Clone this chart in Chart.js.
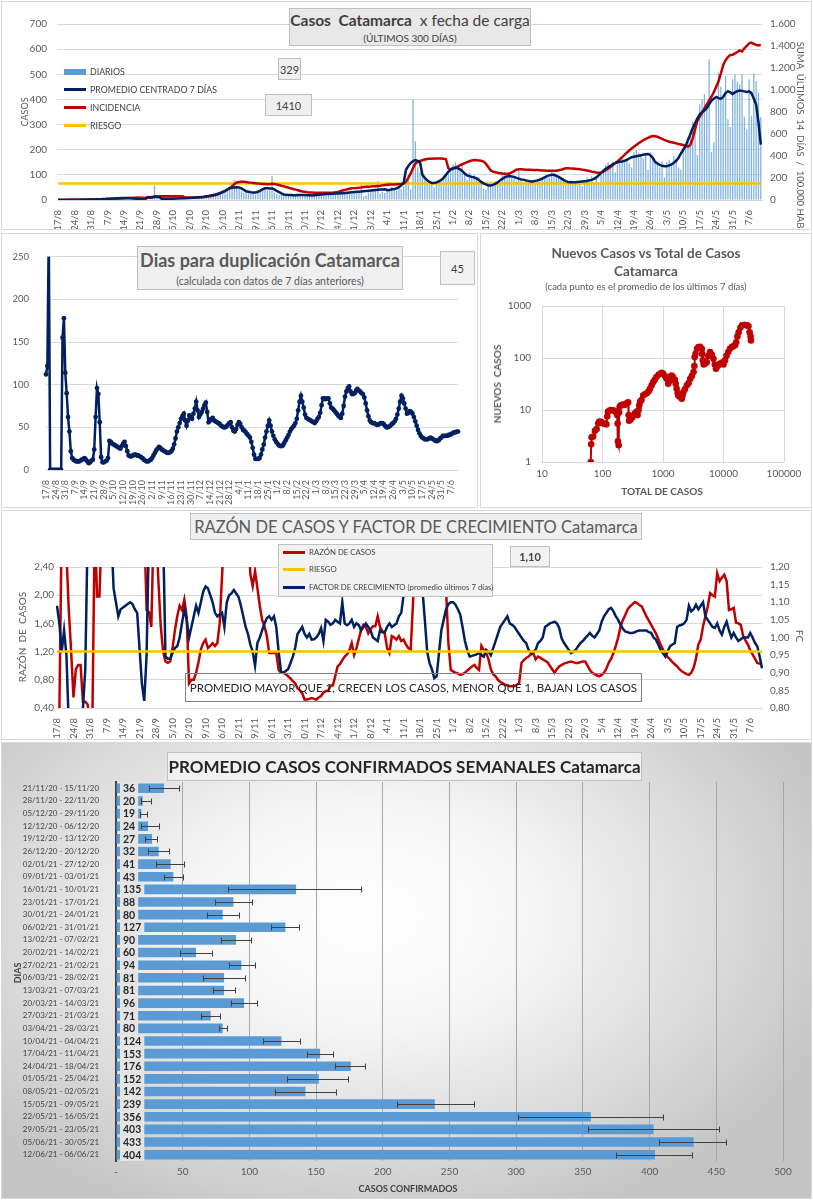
<!DOCTYPE html>
<html><head><meta charset="utf-8">
<script src="https://cdn.jsdelivr.net/npm/chart.js@4.4.0/dist/chart.umd.min.js"></script>
<style>
body{margin:0;background:#fff;font-family:Lato,'Open Sans',sans-serif;}
#wrap{position:relative;width:813px;height:1200px;overflow:hidden;background:#fff;}
.panel{position:absolute;border:1px solid #d9d9d9;box-sizing:border-box;background:#fff;}
canvas{position:absolute;}
.ov{position:absolute;color:#595959;white-space:nowrap;line-height:1;}
.c{transform:translate(-50%,-50%);}
.rl{transform:translate(-50%,-50%) rotate(-90deg);}
.rr{transform:translate(-50%,-50%) rotate(90deg);}
.box{position:absolute;background:#efefef;border:1px solid #bfbfbf;box-sizing:border-box;color:#404040;display:flex;align-items:center;justify-content:center;flex-direction:column;white-space:nowrap;}
.lg{position:absolute;display:flex;align-items:center;font-size:8.8px;color:#404040;white-space:nowrap;}
.sw{display:inline-block;width:22px;height:3px;margin-right:4px;}
</style></head><body><div id="wrap">
<div class="panel" style="left:1px;top:1px;width:811px;height:229px"></div>
<div class="panel" style="left:1px;top:233px;width:477px;height:275px"></div>
<div class="panel" style="left:480px;top:233px;width:332px;height:275px"></div>
<div class="panel" style="left:1px;top:510px;width:811px;height:230px"></div>
<div class="panel" style="left:1px;top:742px;width:811px;height:457px;background:radial-gradient(ellipse 62% 72% at 45% 38%, #ffffff 0%, #f5f5f5 35%, #c4c4c4 100%);"></div>

<canvas id="c1" width="809" height="227" style="left:2px;top:2px"></canvas>
<canvas id="c2" width="475" height="273" style="left:2px;top:234px"></canvas>
<canvas id="c3" width="330" height="273" style="left:481px;top:234px"></canvas>
<canvas id="c4" width="809" height="227" style="left:2px;top:512px"></canvas>
<canvas id="c5" width="809" height="455" style="left:2px;top:743px"></canvas>

<!-- panel 1 overlays -->
<div class="box" style="left:289px;top:8px;width:242px;height:38px;background:#e8e8e8;">
  <div style="font-size:15.5px;color:#404040"><b>Casos&nbsp; Catamarca</b>&nbsp; x fecha&nbsp;de&nbsp;carga</div>
  <div style="font-size:10px;color:#404040;margin-top:3px">(ÚLTIMOS 300&nbsp;DÍAS)</div>
</div>
<div class="box" style="left:278px;top:58px;width:23px;height:22px;font-size:11px;">329</div>
<div class="box" style="left:265px;top:94px;width:47px;height:22px;font-size:11px;">1410</div>
<div class="lg" style="left:64px;top:66px"><span class="sw" style="background:#5b9bd5;height:6px"></span>DIARIOS</div>
<div class="lg" style="left:64px;top:84px"><span class="sw" style="background:#002060"></span>PROMEDIO CENTRADO 7 DÍAS</div>
<div class="lg" style="left:64px;top:102px"><span class="sw" style="background:#c00000"></span>INCIDENCIA</div>
<div class="lg" style="left:64px;top:120px"><span class="sw" style="background:#ffc000"></span>RIESGO</div>
<div class="ov rl" style="left:24px;top:112px;font-size:9px">CASOS</div>
<div class="ov rr" style="left:800px;top:135px;font-size:9.5px">SUMA&nbsp; ÚLTIMOS&nbsp; 14&nbsp; DÍAS&nbsp; /&nbsp; 100.000&nbsp;HAB</div>

<!-- panel 2 overlays -->
<div class="box" style="left:137px;top:246px;width:266px;height:44px;background:#efefef;">
  <div style="font-size:18px;font-weight:bold;color:#595959">Dias para duplicación Catamarca</div>
  <div style="font-size:10.5px;color:#595959;margin-top:4px">(calculada con datos de 7 días anteriores)</div>
</div>
<div class="box" style="left:440px;top:251px;width:35px;height:34px;font-size:11px;background:#f2f2f2;">45</div>

<!-- panel 3 overlays -->
<div class="ov c" style="left:646px;top:254px;font-size:13.5px;font-weight:bold">Nuevos Casos vs Total de Casos</div>
<div class="ov c" style="left:646px;top:272px;font-size:13.5px;font-weight:bold">Catamarca</div>
<div class="ov c" style="left:646px;top:287px;font-size:9.5px">(cada punto es el promedio de los últimos 7 días)</div>
<div class="ov rl" style="left:497px;top:384px;font-size:10px;font-weight:bold">NUEVOS&nbsp; CASOS</div>
<div class="ov c" style="left:662px;top:491px;font-size:10px;font-weight:bold">TOTAL DE CASOS</div>

<!-- panel 4 overlays -->
<div class="box" style="left:190px;top:513px;width:452px;height:27px;background:#efefef;">
  <div style="font-size:16.5px;color:#595959">RAZÓN DE CASOS Y FACTOR DE CRECIMIENTO Catamarca</div>
</div>
<div class="box" style="left:278px;top:544px;width:215px;height:53px;background:#f2f2f2;"></div>
<div class="lg" style="left:283px;top:547px;font-size:7.8px"><span class="sw" style="background:#c00000"></span>RAZÓN DE CASOS</div>
<div class="lg" style="left:283px;top:564px;font-size:7.8px"><span class="sw" style="background:#ffc000"></span>RIESGO</div>
<div class="lg" style="left:283px;top:582px;font-size:7.8px"><span class="sw" style="background:#002060"></span>FACTOR DE CRECIMIENTO (promedio últimos 7 días)</div>
<div class="box" style="left:510px;top:546px;width:40px;height:21px;font-size:11px;font-weight:bold;background:#f2f2f2;">1,10</div>
<div style="position:absolute;left:185px;top:673px;width:457px;height:29px;border:1px solid #7f7f7f;box-sizing:border-box;display:flex;align-items:center;justify-content:center;font-size:11.5px;color:#262626;white-space:nowrap;">PROMEDIO MAYOR QUE 1, CRECEN LOS CASOS, MENOR QUE 1, BAJAN LOS CASOS</div>
<div class="ov rl" style="left:22px;top:637px;font-size:10px">RAZÓN&nbsp; DE&nbsp; CASOS</div>
<div class="ov rr" style="left:800px;top:636px;font-size:10px">FC</div>

<!-- panel 5 overlays -->
<div class="box" style="left:167px;top:752px;width:475px;height:29px;background:rgba(242,242,242,0.9);">
  <div style="font-size:17px;font-weight:bold;color:#262626">PROMEDIO CASOS CONFIRMADOS SEMANALES Catamarca</div>
</div>
<div class="ov rl" style="left:17px;top:973px;font-size:9px;font-weight:bold;color:#404040">DIAS</div>
<div class="ov c" style="left:408px;top:1188px;font-size:9px;font-weight:bold;color:#404040">CASOS CONFIRMADOS</div>
</div>

<script>
// ---------- DATA ----------
// daily cases (17/8/2020 .. 12/6/2021)
const diarios = [
0,1,0,0,1,0,0, 1,0,2,1,0,1,2, 1,3,2,2,4,3,5, 6,3,5,8,4,7,9, 12,8,10,6,9,5,3, 2,1,3,2,4,8,58,
10,8,4,6,3,2,4, 6,5,7,8,6,9,7, 8,9,6,10,12,9,14, 12,18,16,22,20,28,25, 34,38,45,40,55,80,50,
45,35,30,38,28,25,30, 22,35,40,48,45,38,
38,96,30,25,20,22,21, 18,24,15,22,19,21,21, 15,20,22,18,19,17,22, 18,26,25,22,28,20,29,
22,30,35,24,28,25,25, 26,30,28,35,72,15,18, 30,40,45,38,76,25,33, 28,48,40,52,45,38,50,
45,55,70,100,42,400,233, 130,110,95,80,70,60,71, 50,65,70,75,90,100,110, 115,140,150,130,120,135,99,
80,110,95,100,85,90,70, 45,40,55,60,70,75,75, 70,100,110,95,105,90,88, 75,120,85,70,80,65,72,
60,70,85,90,80,95,87, 90,110,105,100,95,85,87, 60,75,80,70,65,75,72, 55,80,90,85,95,70,85,
70,100,125,140,150,130,153, 110,160,170,175,150,160,146, 130,190,200,185,180,165,182,
120,190,170,160,140,130,154, 90,150,160,140,175,150,129, 120,200,210,250,280,310,303,
180,380,400,420,360,560,192, 230,400,507,450,420,493,321, 290,480,500,470,460,500,331,
280,480,335,504,473,427,329];
// 7-day centered average
const promedio7 = [
0,0,0,0,0,1,1, 1,1,1,1,1,1,2, 2,2,3,3,3,4,4, 5,5,6,6,7,7,8, 8,8,8,7,6,5,4, 3,2,2,11,11,12,12,
12,12,5,5,5,5,5, 5,6,6,7,7,7,8, 8,9,9,10,11,12,13, 15,16,18,20,22,25,28, 32,36,41,46,49,50,51,
50,46,40,35,33,31,30, 30,33,37,42,47,47,46, 46,42,36,31,26,22,21, 20,20,19,19,20,20,20,
20,19,19,18,19,20,21, 22,23,24,24,25,25,26, 26,27,27,28,29,30,31, 32,33,33,34,35,36,37,
38,39,40,41,42,42,43, 39,40,43,44,46,51,58, 68,120,135,147,155,159,156, 149,100,88,78,72,68,68,
70,74,80,88,100,112,122, 126,128,127,122,115,105,98, 95,92,90,86,80,72,66, 62,58,58,60,64,70,78,
84,90,94,95,94,92,88, 85,82,81,78,76,74,74, 76,78,81,85,90,95,98, 100,100,96,92,86,80,75,
72,71,71,71,72,73,74, 75,76,78,80,84,90,98, 108,116,124,130,136,142,147, 150,152,153,156,160,165,170,
172,174,176,178,180,182,183, 178,168,152,145,140,136,134, 134,138,142,148,156,168,185,
200,215,239,260,285,305,325, 340,350,356,365,380,395,403, 410,405,403,410,425,433,428,
422,428,433,435,434,432,430, 432,425,404,380,310,220];
// incidence: 14-day sum per 100.000 inhabitants
const incidencia = [
2,2,2,3,3,3,3, 3,3,3,4,4,4,4, 4,5,5,6,6,7,7, 8,9,10,11,12,13,14, 15,17,18,19,20,21,22, 20,20,20,20,21,22,34,
35,35,35,34,34,34,34, 34,34,34,34,34,22,22, 22,22,23,24,25,26,27, 30,33,36,40,45,52,60, 70,82,95,110,125,145,160,
163,165,165,163,160,158,155, 152,150,148,146,145,144,143, 148,145,140,136,130,124,118, 112,106,100,94,88,82,78,
74,71,69,68,67,66,66, 66,66,67,67,67,68,70, 74,80,86,92,98,102,106, 108,110,112,114,118,120,121,
122,124,126,128,130,133,136, 138,140,141,142,143,144,145, 150,165,200,242,290,333,345, 355,362,368,372,375,376,377,
378,378,377,376,370,290,275, 285,295,305,315,325,335,345, 352,360,364,362,360,357,350, 330,300,270,258,252,248,244,
240,238,236,240,250,262,275, 280,280,278,276,275,274,273, 272,272,270,268,268,267,267, 267,266,266,270,275,282,288,
288,287,286,284,282,280,276, 272,268,264,258,254,250,248, 250,258,270,285,300,318,335, 350,370,390,410,430,450,468,
485,500,515,530,545,555,565, 575,582,580,575,565,555,545, 538,530,525,520,515,509,505,
500,492,485,500,560,640,720, 760,790,833,870,905,939,980, 1030,1080,1150,1227,1270,1300,1318,
1320,1333,1345,1360,1350,1379,1400, 1424,1430,1420,1410,1405,1410];
const riesgoIncidencia = 150;

// days for doubling
const duplicacion = [
112,122,280,0,0,0,0,0,0,0, 0,0,155,178,114,90,62,45,22,14, 12,11,10,10,10,11,12,13,14,12,
10,8,9,11,12,24,62,96,89,56, 15,9,9,10,11,14,34,33,31,30, 29,28,27,26,25,28,31,33,28,22,
17,16,16,17,18,18,17,17,16,15, 14,12,11,10,10,11,12,14,17,20, 23,25,27,26,24,23,22,21,20,20,
21,22,25,30,37,45,50,55,60,63, 66,58,52,58,64,62,60,66,72,80, 70,62,65,68,72,76,79,68,56,58,
60,61,58,57,56,55,54,52,51,50, 50,51,53,55,56,50,46,45,48,53, 56,54,50,47,46,44,42,40,38,33,
26,18,13,13,13,14,18,24,30,38, 45,52,58,52,45,40,36,33,31,29, 28,28,29,32,35,38,41,45,48,50,
52,55,60,70,80,87,80,73,65,61, 60,59,58,57,56,55,57,60,62,67, 76,84,84,83,84,84,78,73,72,70,
68,66,64,62,61,66,75,86,92,96, 98,92,89,89,90,93,95,93,92,90, 89,85,78,70,63,58,56,55,55,54,
53,53,54,55,55,54,52,50,50,51, 52,54,55,57,60,65,72,80,87,84, 78,72,66,67,69,68,66,62,57,52,
47,43,40,38,37,36,36,36,37,38, 37,36,35,34,34,35,37,38,40,40, 40,40,41,41,42,43,44,44,45,45];

// new cases vs total cases (log-log)
const totalCasos = [64,64,65,66,70,75,80,85,88,92,96,100,105,110,116,120,123,130,140,150,160,170,175,178,180,185,188,192,200,215,230,250,265,270,275,290,310,330,345,365,380,395,405,420,440,470,500,540,580,610,650,690,730,780,850,945,1000,1080,1150,1220,1280,1330,1390,1460,1570,1620,1680,1750,1790,1900,2040,2100,2170,2300,2480,2650,2820,3000,3200,3300,3340,3450,3650,3870,4100,4380,4450,4550,4700,5000,5280,5600,6000,6400,6820,7200,7500,7740,8200,8800,9500,10000,10600,11200,12000,12800,13700,14600,15500,16200,17000,17800,19000,20300,21800,23000,24500,25800,27000,28000,28400];
const nuevosCasos = [0.6,1,2.2,3.0,3.1,4.0,4.3,5.5,5.9,6.0,5.8,5.7,5.5,5.4,5.3,7.5,9.2,9.8,10,9.9,9.5,9.0,8.0,5.5,2.5,2.1,9.0,11.5,12.3,12.8,12.5,13.5,14,8,6.2,6.5,7.2,7.9,8.6,9.2,8.0,10,12.3,14.5,15.5,19,20,21,23,25.7,30,34.5,38,43,48,52,50,45,40,32,36,44,46,43,38,32,25.7,21,19,18,16.5,19,22,25,29.8,33,40,45,53.7,70,104,120,150,162,165,150,120,90,75,78,83,110,130,115,97,75,62,67,72,78,82,75,90,110,130,150,162,170,175,200,260,313,380,425,430,430,425,410,313,260,217];

// ratio of cases (left axis) and growth factor (right axis)
const razonCasos = [
0.2,0.35,3,3,2.6,1.79,1.2,0.55,0.95,1.01, 1.01,0.49,0.49,0.45,0.2,0.2,3,1.98,1.98,3,
3,3,3,3,3,3,3,3,3,3, 3,3,3,3,3,3,3,3,1.79,1.76,
1.55,3,3,2.2,1.56,1.2,1.06,1.04,1.06,1.25, 1.5,1.7,1.85,1.79,1.94,1.7,0.75,0.8,0.8,0.9,
1.05,1.23,1.32,1.37,1.25,1.28,1.32,1.28,1.32,1.6, 2.27,3,3,3,3,3,3,3,3,3,
3,3,2.3,2.13,2.34,2.1,1.85,1.65,1.56,1.42, 1.18,1.18,1.18,1.18,0.94,0.9,0.9,0.88,0.85,0.82,
0.78,0.75,0.68,0.65,0.61,0.52,0.52,0.53,0.54,0.53, 0.52,0.55,0.57,0.62,0.64,0.64,0.72,0.72,0.85,0.99,
1.02,1.08,1.13,1.16,1.22,1.32,1.15,1.25,1.38,1.51, 1.58,1.55,1.46,1.52,1.56,1.56,1.7,1.55,1.49,1.46,
1.25,1.18,1.42,1.4,1.37,1.42,1.35,1.37,1.3,1.25, 1.23,1.9,3,3,3,3,3,3,3,3,
3,3,3,3,3,2.08,1.32,0.94,0.92,0.9, 0.89,0.87,0.88,0.9,0.93,0.96,0.99,1.01,0.97,0.94,
1.28,1.22,1.18,1.09,0.95,0.88,0.85,0.8,0.77,0.75, 0.73,0.72,0.71,0.71,0.71,0.73,0.75,1.04,1.08,1.11,
1.13,1.16,1.18,1.09,1.13,1.11,1.09,1.07,1.05,1.0, 0.95,0.9,0.95,0.99,1.01,1.03,1.04,1.05,1.06,1.05,
1.04,1.04,1.05,1.06,1.06,1.0,0.94,0.9,0.88,0.86, 0.85,0.87,0.9,0.96,1.04,1.1,1.18,1.28,1.4,1.55,
1.65,1.72,1.8,1.84,1.87,1.9,1.89,1.86,1.84,1.77, 1.7,1.64,1.58,1.52,1.46,1.38,1.3,1.23,1.17,1.12,
1.09,1.05,1.02,0.99,0.95,0.92,0.9,0.88,0.87,0.9, 0.97,1.1,1.3,1.37,1.56,1.7,1.84,2.03,2.0,1.98,
2.31,2.2,2.25,2.29,2.2,1.79,1.8,1.82,1.61,1.6, 1.58,1.42,1.36,1.3,1.22,1.16,1.1,1.04,1.03,1.02];
const factorCrecimiento = [
1.09,1.04,0.96,1.02,0.95,0.75,0.75,0.75,0.75,0.75, 0.75,0.8,0.91,1.3,1.3,1.3,1.3,1.3,1.3,1.3,
1.3,1.3,1.3,1.3,1.14,1.1,1.06,1.08,1.085,1.09, 1.095,1.1,1.095,1.08,1.07,0.97,0.87,0.82,0.95,1.3,
1.3,1.3,1.3,1.3,1.3,1.3,0.946,0.94,0.94,0.955, 0.97,0.975,1.0,1.04,1.08,1.05,1.0,1.03,1.06,1.09,
1.07,1.1,1.13,1.145,1.14,1.12,1.1,1.07,1.06,1.065, 1.07,1.03,1.1,1.12,1.125,1.135,1.125,1.115,1.09,1.06,
1.03,1.01,0.98,0.96,0.92,0.984,1.0,1.02,1.04,1.055, 1.06,1.05,1.06,1.03,0.96,0.904,0.9,0.905,0.91,0.927,
0.945,0.97,1.01,1.02,1.03,1.01,1.0,1.01,0.994,0.995, 1.0,1.01,1.027,0.99,1.05,1.045,1.036,1.04,1.05,1.045,
1.04,1.1,1.04,1.035,1.04,1.05,1.03,1.04,1.035,1.02, 1.03,1.04,1.03,1.02,1.0,0.995,0.99,1.02,1.015,1.015,
1.03,1.04,1.03,1.035,1.04,1.06,1.07,1.12,1.3,1.3, 1.3,1.3,1.3,1.3,1.3,1.135,1.05,0.96,0.927,0.91,
0.885,0.89,0.956,1.02,1.05,1.08,1.095,1.1,1.1,1.093, 1.08,1.065,1.03,0.99,0.965,0.946,0.948,0.95,0.952,0.956,
0.95,0.946,0.965,0.96,0.95,0.97,0.99,1.01,1.03,1.04, 1.05,1.06,1.04,1.036,1.03,1.02,1.01,1.0,0.99,0.984,
0.965,0.956,0.96,0.965,0.984,0.99,1.0,1.03,1.035,1.04, 1.042,1.045,1.04,1.027,0.998,0.985,0.975,0.965,0.956,0.96,
0.965,0.975,0.984,0.99,0.998,1.005,1.013,1.005,1.0,1.01, 1.02,1.045,1.06,1.07,1.08,1.084,1.074,1.06,1.05,1.036,
1.025,1.017,1.015,1.013,1.013,1.015,1.018,1.02,1.02,1.02, 1.02,1.015,1.013,1.0,0.994,0.98,0.965,0.955,0.946,0.96,
0.975,0.98,0.984,1.03,1.034,1.036,1.04,1.05,1.09,1.074, 1.08,1.093,1.08,1.09,1.1,1.06,1.05,1.04,1.03,1.027,
1.04,1.02,1.008,1.03,1.045,1.02,1.0,1.013,1.0,0.99, 0.995,1.0,1.0,1.0,1.013,1.0,0.985,0.975,0.946,0.913];
const riesgoRazon = 1.2;

// weekly averages
const semanas = ['21/11/20 - 15/11/20','28/11/20 - 22/11/20','05/12/20 - 29/11/20','12/12/20 - 06/12/20','19/12/20 - 13/12/20','26/12/20 - 20/12/20','02/01/21 - 27/12/20','09/01/21 - 03/01/21','16/01/21 - 10/01/21','23/01/21 - 17/01/21','30/01/21 - 24/01/21','06/02/21 - 31/01/21','13/02/21 - 07/02/21','20/02/21 - 14/02/21','27/02/21 - 21/02/21','06/03/21 - 28/02/21','13/03/21 - 07/03/21','20/03/21 - 14/03/21','27/03/21 - 21/03/21','03/04/21 - 28/03/21','10/04/21 - 04/04/21','17/04/21 - 11/04/21','24/04/21 - 18/04/21','01/05/21 - 25/04/21','08/05/21 - 02/05/21','15/05/21 - 09/05/21','22/05/21 - 16/05/21','29/05/21 - 23/05/21','05/06/21 - 30/05/21','12/06/21 - 06/06/21'];
const promedioSemanal = [36,20,19,24,27,32,41,43,135,88,80,127,90,60,94,81,81,96,71,80,124,153,176,152,142,239,356,403,433,404];
const errorBajo = [25,19,18,19,22,24,30,36,84,74,68,116,79,48,85,65,73,86,64,77,110,143,164,128,119,211,301,354,407,375];
const errorAlto = [47,26,23,32,31,40,51,50,184,102,92,137,101,72,104,97,89,106,78,83,138,163,187,174,165,268,410,452,457,432];

// day labels (one per day from 17/8/2020)
const dias = [];
for (let i = 0; i < 300; i++) { const d = new Date(2020, 7, 17 + i); dias.push(d.getDate() + '/' + (d.getMonth() + 1)); }

// ---------- CHARTS ----------
Chart.defaults.font.family = 'Lato, "Open Sans", sans-serif';
Chart.defaults.color = '#595959';
Chart.defaults.animation = false;
const noPlug = {legend:{display:false}, tooltip:{enabled:false}};
const fmtMiles = v => v >= 1000 ? Math.floor(v/1000) + '.' + String(v % 1000).padStart(3,'0') : String(v);
const fmtComa = v => Number(v).toFixed(2).replace('.', ',');
const weekTick = (v, i) => i % 7 === 0 ? dias[i] : '';
const xDays = (h, size) => ({grid:{display:false}, border:{display:true,color:'#d9d9d9'},
  ticks:{autoSkip:false, minRotation:90, maxRotation:90, padding:2, font:{size:size}, color:'#595959', callback: weekTick},
  afterFit: s => { s.height = h; }});

// Panel 1
new Chart(document.getElementById('c1'), {
  type:'bar',
  data:{labels:dias, datasets:[
    {type:'line', label:'PROMEDIO CENTRADO 7 DÍAS', data:promedio7, yAxisID:'y', borderColor:'#002060', borderWidth:2.5, pointRadius:0, order:1},
    {type:'line', label:'INCIDENCIA', data:incidencia, yAxisID:'y2', borderColor:'#c00000', borderWidth:2.5, pointRadius:0, order:2},
    {type:'line', label:'RIESGO', data:dias.map(() => riesgoIncidencia), yAxisID:'y2', borderColor:'#ffc000', borderWidth:2.5, pointRadius:0, order:3},
    {type:'bar', label:'DIARIOS', data:diarios, yAxisID:'y', backgroundColor:'#7fb2e0', barPercentage:0.55, categoryPercentage:1, order:4}
  ]},
  options:{responsive:false, layout:{padding:{top:22,left:0,right:0,bottom:0}, autoPadding:false}, plugins:noPlug,
    scales:{
      x: xDays(29, 9.5),
      y:{position:'left', min:0, max:700, ticks:{stepSize:100, padding:10, font:{size:10}}, grid:{color:'#d9d9d9', drawTicks:false}, border:{display:false}, afterFit:s=>{s.width=55;}},
      y2:{position:'right', min:0, max:1600, ticks:{stepSize:200, padding:8, font:{size:10}, callback:fmtMiles}, grid:{display:false, drawTicks:false}, border:{display:false}, afterFit:s=>{s.width=49;}}
    }}
});

// Panel 2
new Chart(document.getElementById('c2'), {
  type:'line',
  data:{labels:dias, datasets:[{label:'Días para duplicación', data:duplicacion, borderColor:'#002060', backgroundColor:'#002060', borderWidth:2.5, pointRadius:2.4, pointBorderWidth:0}]},
  options:{responsive:false, layout:{padding:{top:16,right:19,left:0,bottom:0}, autoPadding:false}, plugins:noPlug,
    scales:{
      x: xDays(37, 9),
      y:{min:0, max:250, ticks:{stepSize:50, padding:17, font:{size:9.5}}, grid:{color:'#d9d9d9', drawTicks:false}, border:{display:false}, afterFit:s=>{s.width=44;}}
    }}
});

// Panel 3
new Chart(document.getElementById('c3'), {
  type:'scatter',
  data:{datasets:[{label:'Nuevos casos', data: totalCasos.map((t,i)=>({x:t, y:nuevosCasos[i]})), showLine:true, borderColor:'#c00000', backgroundColor:'#c00000', borderWidth:2, pointRadius:3.3, pointBorderWidth:0}]},
  options:{responsive:false, layout:{padding:{top:72,right:27,left:0,bottom:0}, autoPadding:false}, plugins:noPlug,
    scales:{
      x:{type:'logarithmic', min:10, max:100000, afterBuildTicks:s=>{s.ticks=[10,100,1000,10000,100000].map(v=>({value:v}));}, ticks:{padding:6, font:{size:10}, callback:v=>String(v)}, grid:{color:'#d9d9d9', drawTicks:false}, border:{display:false}, afterFit:s=>{s.height=45;}},
      y:{type:'logarithmic', min:1, max:1000, afterBuildTicks:s=>{s.ticks=[1,10,100,1000].map(v=>({value:v}));}, ticks:{padding:11, font:{size:10}, callback:v=>String(v)}, grid:{color:'#d9d9d9', drawTicks:false}, border:{display:false}, afterFit:s=>{s.width=61;}}
    }}
});

// Panel 4
new Chart(document.getElementById('c4'), {
  type:'line',
  data:{labels:dias, datasets:[
    {label:'FACTOR DE CRECIMIENTO', data:factorCrecimiento, yAxisID:'y2', borderColor:'#002060', borderWidth:2.5, pointRadius:0, order:2},
    {label:'RIESGO', data:dias.map(()=>riesgoRazon), yAxisID:'y', borderColor:'#ffc000', borderWidth:2.5, pointRadius:0, order:1},
    {label:'RAZÓN DE CASOS', data:razonCasos, yAxisID:'y', borderColor:'#c00000', borderWidth:2.5, pointRadius:0, order:3}
  ]},
  options:{responsive:false, layout:{padding:{top:55,left:0,right:0,bottom:0}, autoPadding:false}, plugins:noPlug,
    scales:{
      x: xDays(31, 9.5),
      y:{position:'left', min:0.4, max:2.4, ticks:{stepSize:0.2, padding:3, font:{size:10}, callback:fmtComa}, grid:{color:'#d9d9d9', drawTicks:false}, border:{display:false}, afterFit:s=>{s.width=55;}},
      y2:{position:'right', min:0.8, max:1.2, ticks:{stepSize:0.05, padding:8, font:{size:10}, callback:fmtComa}, grid:{display:false, drawTicks:false}, border:{display:false}, afterFit:s=>{s.width=49;}}
    }}
});

// Panel 5
const errorBars = {id:'errorBars', afterDatasetsDraw(chart){
  const {ctx, scales:{x, y}} = chart; ctx.save(); ctx.strokeStyle = '#404040'; ctx.lineWidth = 1;
  promedioSemanal.forEach((v,i) => {
    const yy = Math.round(y.getPixelForValue(i)) + 0.5;
    const x1 = Math.round(x.getPixelForValue(errorBajo[i])) + 0.5, x2 = Math.round(x.getPixelForValue(errorAlto[i])) + 0.5;
    ctx.beginPath(); ctx.moveTo(x1,yy); ctx.lineTo(x2,yy);
    ctx.moveTo(x1,yy-3); ctx.lineTo(x1,yy+3); ctx.moveTo(x2,yy-3); ctx.lineTo(x2,yy+3); ctx.stroke();
  });
  ctx.restore();
}};
const valueLabels = {id:'valueLabels', afterDatasetsDraw(chart){
  const {ctx, scales:{x, y}} = chart; ctx.save();
  ctx.font = 'bold 10.5px Lato, "Open Sans", sans-serif'; ctx.textBaseline = 'middle';
  const band = y.getPixelForValue(1) - y.getPixelForValue(0);
  promedioSemanal.forEach((v,i) => {
    const yy = y.getPixelForValue(i); const x0 = x.getPixelForValue(0) + 4; const t = String(v);
    const w = ctx.measureText(t).width;
    ctx.fillStyle = '#e4e4e4'; ctx.fillRect(x0, yy - band/2, w + 6, band);
    ctx.fillStyle = '#262626'; ctx.fillText(t, x0 + 3, yy + 0.5);
  });
  ctx.restore();
}};
new Chart(document.getElementById('c5'), {
  type:'bar',
  data:{labels:semanas, datasets:[{label:'Promedio semanal', data:promedioSemanal, backgroundColor:'#5b9bd5', categoryPercentage:0.76, barPercentage:1}]},
  options:{indexAxis:'y', responsive:false, layout:{padding:{top:39,right:28,left:0,bottom:0}, autoPadding:false}, plugins:noPlug,
    scales:{
      x:{min:0, max:500, ticks:{stepSize:50, padding:5, font:{size:10}, callback:v => v === 0 ? '-' : String(v)}, grid:{color: c => c.tick && c.tick.value === 0 ? 'rgba(0,0,0,0)' : '#a6a6a6', drawTicks:false}, border:{display:false}, afterFit:s=>{s.height=37;}},
      y:{ticks:{padding:9, font:{size:7.9}, color:'#404040', autoSkip:false}, grid:{display:false}, border:{display:true, color:'#404040', width:2}, afterFit:s=>{s.width=114;}}
    }},
  plugins:[errorBars, valueLabels]
});
</script>
</body></html>
